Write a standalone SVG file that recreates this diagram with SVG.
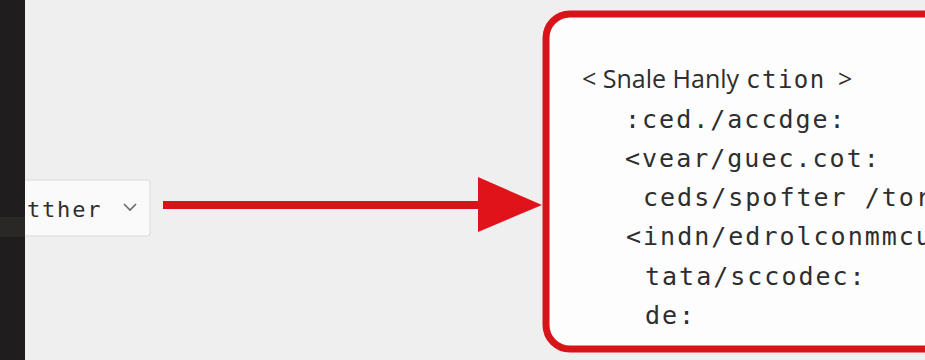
<svg xmlns="http://www.w3.org/2000/svg" width="925" height="360" viewBox="0 0 925 360">
  <defs>
    <style>
      .mono { font-family: "DejaVu Sans Mono", "Liberation Mono", monospace; fill: #2e2e2e; }
      .code { font-size: 25px; letter-spacing: 2px; }
      .sans { font-family: "Open Sans", "Noto Sans", "Liberation Sans", sans-serif; fill: #2e2e2e; }
      .red { stroke: #d8141b; }
    </style>
  </defs>
  <rect x="0" y="0" width="925" height="360" fill="#efefef"/>

  <g id="connectors">
    <line class="red" x1="163" y1="205" x2="482" y2="205" stroke-width="8" stroke-linecap="butt"/>
    <polygon points="478,177 542,205 478,232" fill="#e0131b"/>
  </g>

  <g id="dropdown">
    <rect x="10" y="180" width="140" height="56" rx="3" fill="#fafafa" stroke="#dcdcdc" stroke-width="1.2"/>
    <text class="mono" x="27" y="217" font-size="22" letter-spacing="1.8">tther</text>
    <polyline points="124,204 130,210 136,204" fill="none" stroke="#6a6a6a" stroke-width="1.6"/>
  </g>

  <g id="code-panel">
    <rect class="red" x="546" y="14" width="420" height="335" rx="24" fill="#fdfdfd" stroke-width="7"/>
    <text class="sans" x="582" y="88" font-size="25">&lt; Snale Hanly <tspan class="mono" font-size="24" letter-spacing="1.5" x="746">ction</tspan><tspan x="838">&gt;</tspan></text>
    <text class="mono code" x="625" y="128">:ced./accdge:</text>
    <text class="mono code" x="625" y="167">&lt;vear/guec.cot:</text>
    <text class="mono code" x="643" y="206">ceds/spofter /torg</text>
    <text class="mono code" x="626" y="245">&lt;indn/edrolconmmcu</text>
    <text class="mono code" x="645" y="285">tata/sccodec:</text>
    <text class="mono code" x="645" y="324">de:</text>
  </g>

  <rect x="0" y="0" width="25" height="360" fill="#1f1d1e"/>
  <rect x="0" y="217" width="25" height="20" fill="#2a2727"/>
</svg>
